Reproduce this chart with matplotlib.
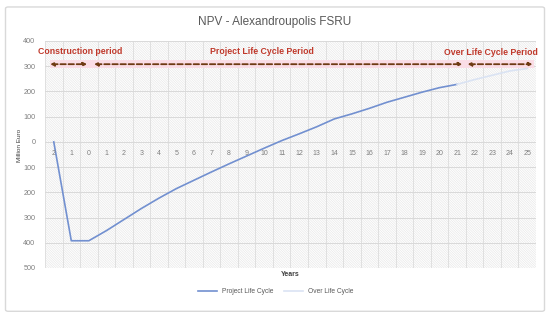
import matplotlib.pyplot as plt
from matplotlib.patches import Rectangle, FancyBboxPatch

# years of the project (construction starts at -2)
years = [-2, -1, 0, 1, 2, 3, 4, 5, 6, 7, 8, 9, 10, 11, 12, 13, 14, 15, 16, 17, 18, 19,
         20, 21, 22, 23, 24, 25]

# NPV (Million Euro)
project_years = years[:24]          # -2 .. 21
project_npv = [0, -392, -392, -352, -308, -264, -223, -185, -152, -119, -87, -56, -25,
               5, 32, 60, 91, 111, 133, 157, 177, 197, 215, 228]
over_years = years[23:]             # 21 .. 25
over_npv = [228, 247, 264, 281, 291]

y_ticks = [400, 300, 200, 100, 0, -100, -200, -300, -400, -500]

grey = '#595959'
tick_grey = '#7f7f7f'
arrow_col = '#6e3a12'
label_col = '#c0392b'

plt.rcParams['font.family'] = ['Liberation Sans', 'DejaVu Sans']
plt.rcParams['hatch.linewidth'] = 0.5

fig = plt.figure(figsize=(5.5, 3.17), dpi=100)
# outer chart frame
fig.patches.append(FancyBboxPatch((0.01, 0.018), 0.98, 0.96, boxstyle='round,pad=0,rounding_size=0.005',
                                  transform=fig.transFigure, facecolor='none',
                                  edgecolor='#d9d9d9', linewidth=1.0))
ax = fig.add_axes([0.0818, 0.1546, 0.8927, 0.7161])
ax.set_facecolor('none')

idx = {y: i for i, y in enumerate(years)}

# hatched background
ax.add_patch(Rectangle((0, 0), 1, 1, transform=ax.transAxes, facecolor='white',
                       edgecolor='#e8e8e8', hatch='\\' * 14, linewidth=0, zorder=0))
for b in range(len(years) + 1):
    ax.axvline(b - 0.5, color='#dcdcdc', linewidth=0.6, zorder=1)
for t in y_ticks:
    ax.axhline(t, color='#d9d9d9', linewidth=0.7, zorder=1)
# light pink band behind the period arrows
ax.axhspan(292, 326, xmin=0.01, xmax=0.995, color='#fadde6', zorder=1.5, linewidth=0)

ax.plot([idx[y] for y in project_years], project_npv, color='#7290d0', linewidth=1.2,
        label='Project Life Cycle', zorder=3)
ax.plot([idx[y] for y in over_years], over_npv, color='#dae3f3', linewidth=1.2,
        label='Over Life Cycle', zorder=3)

ax.set_xlim(-0.5, len(years) - 0.5)
ax.set_ylim(-500, 400)
ax.set_yticks(y_ticks)
ax.set_yticklabels([str(abs(t)) for t in y_ticks], fontsize=5.2, color=tick_grey)
ax.tick_params(axis='y', length=0, pad=7)
ax.set_xticks([])
for s in ax.spines.values():
    s.set_visible(False)

# category labels sit under the zero line
for y in years:
    ax.text(idx[y], -48, str(abs(y)), ha='center', va='center', fontsize=5, color=tick_grey,
            zorder=4)

# period arrows
arrow_y = 308
for x0, x1 in [(-0.2, 1.9), (2.3, 23.3), (23.6, 27.3)]:
    ax.annotate('', xy=(x1, arrow_y), xytext=(x0, arrow_y),
                arrowprops=dict(arrowstyle='<|-|>', color=arrow_col, linestyle=(0, (3, 1.5)),
                                linewidth=1.3, mutation_scale=5, shrinkA=0, shrinkB=0), zorder=5)

ax.text(-0.9, 358, 'Construction period', fontsize=6.3, fontweight='bold', color=label_col,
        ha='left', va='center')
ax.text(11.9, 358, 'Project Life Cycle Period', fontsize=6.3,
        fontweight='bold', color=label_col, ha='center', va='center')
ax.text(27.6, 355, 'Over Life Cycle Period', fontsize=6.3, fontweight='bold',
        color=label_col, ha='right', va='center')

fig.text(0.5, 0.93, 'NPV - Alexandroupolis FSRU', ha='center', va='center', fontsize=8.5,
         color=grey)
fig.text(0.036, 0.54, 'Million Euro', rotation=90, ha='center', va='center', fontsize=4.6,
         color='#404040')
fig.text(0.528, 0.133, 'Years', ha='center', va='center', fontsize=5, color='#404040',
         fontweight='bold')

ax.legend(loc='center', bbox_to_anchor=(0.47, -0.105), ncol=2, frameon=False, fontsize=4.8,
          labelcolor=grey, handlelength=2.8, columnspacing=1.6)

fig.savefig('out.png', dpi=100)
